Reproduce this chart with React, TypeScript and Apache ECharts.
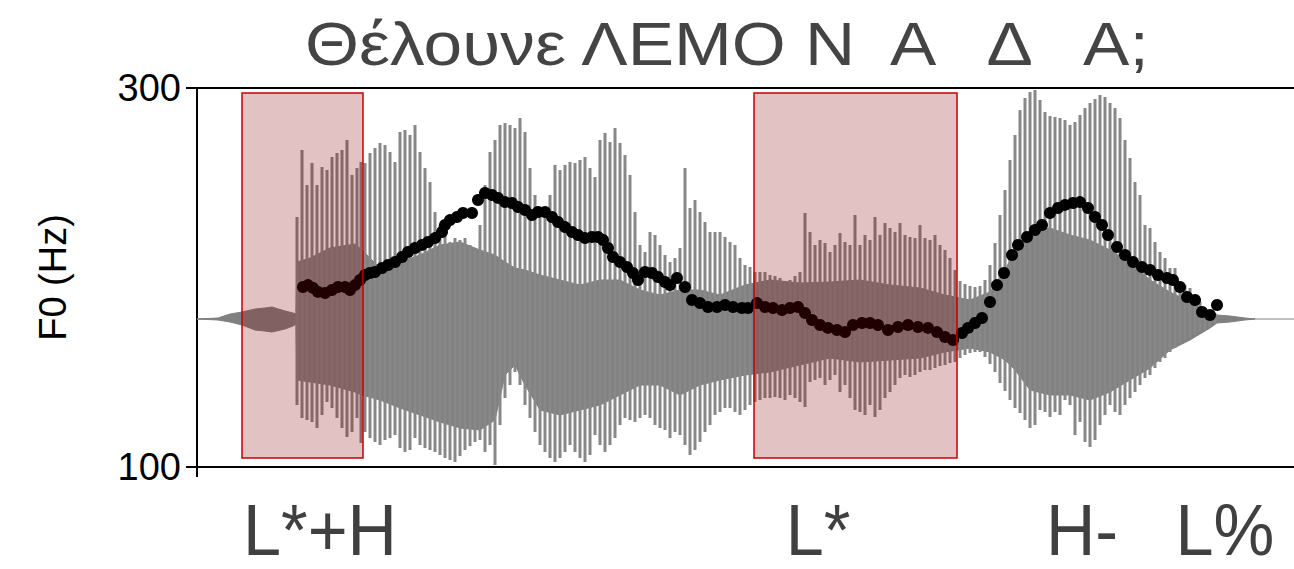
import React, { useEffect, useRef } from "react";
import * as echarts from "echarts";

const titleText = "Θέλουνε ΛΕΜΟ Ν  Α   Δ   Α;";
const yAxisName = "F0 (Hz)";
const f0Ticks = [100, 300];

// pitch track (time in ms, F0 in Hz)
const pitchTime = [106,111,116,121,128,135,141,148,153,158,163,168,173,178,185,191,198,205,211,218,225,231,238,245,248,253,260,266,275,281,288,295,301,308,315,321,328,335,341,348,355,361,368,375,381,388,395,401,406,411,416,423,430,436,441,448,455,461,468,473,480,488,495,503,511,520,528,536,545,551,560,568,576,585,593,601,608,615,623,631,640,648,656,665,673,681,691,701,711,721,731,740,748,756,765,771,778,785,793,800,807,815,821,830,838,845,853,861,868,876,883,891,898,905,911,920,928,936,945,953,961,970,976,983,990,998,1005,1013,1020];
const pitchHz = [195.0,196.0,194.5,192.4,191.8,193.4,195.0,195.0,193.4,196.0,198.7,201.3,202.4,202.9,205.0,206.6,208.2,210.8,213.5,215.6,217.2,218.7,220.8,224.0,227.7,230.3,231.9,234.0,234.0,240.9,244.6,243.5,242.0,239.8,239.3,237.2,235.6,233.0,234.6,234.6,231.9,229.3,226.6,224.0,222.4,220.8,221.4,221.4,219.8,215.6,210.8,208.2,205.5,202.4,198.7,202.9,202.4,200.3,197.6,196.0,199.7,195.0,188.1,186.5,184.4,184.4,185.5,184.4,183.9,183.9,186.5,184.4,183.9,182.8,183.9,184.4,181.3,177.6,174.9,173.4,172.3,171.2,174.9,176.0,176.0,174.9,172.3,173.9,174.9,173.9,173.4,171.2,168.6,167.0,170.7,173.4,176.0,178.6,187.1,196.0,202.4,211.9,217.2,221.4,225.1,227.7,234.0,236.7,238.3,239.3,239.8,236.7,231.9,227.7,222.4,216.1,211.9,208.2,205.5,204.0,201.3,199.7,198.7,195.0,189.7,188.1,181.8,180.2,185.5];

// waveform peaks (time in ms, amplitude in arbitrary units)
const waveTime = [100,105,110,115,120,125,130,135,140,145,150,155,160,164,168,173,178,183,188,193,198,203,208,213,218,223,228,233,238,243,248,253,258,263,268,273,278,283,288,293,298,303,308,313,318,323,328,333,338,343,348,353,358,363,368,373,378,383,388,393,398,403,408,413,418,423,428,433,438,443,448,453,458,463,468,473,478,483,488,493,498,503,508,513,518,523,528,533,538,543,548,553,558,563,568,573,578,583,588,593,598,603,608,613,618,623,628,633,638,643,648,653,658,663,668,673,678,683,688,693,698,703,708,713,718,723,728,733,738,743,748,753,758,763,768,773,778,783,788,793,798,803,808,813,818,823,828,833,838,843,848,853,858,863,868,873,878,883,888,893,898,903,908,913,918,923,928,933,938,943,948,953,958,963,968,973,978,983,988,993,998,1003,1008,1013,1018];
const waveTop = [102,169,134,156,134,152,149,162,166,169,179,144,151,157,156,166,171,176,174,167,157,187,189,184,194,167,151,137,107,94,84,77,81,79,81,74,69,94,134,167,179,194,196,194,191,201,187,151,124,104,101,124,154,149,154,157,156,159,162,151,142,179,186,177,191,176,164,144,107,74,67,87,84,74,64,57,61,71,151,111,119,107,97,87,87,87,82,77,74,61,54,52,47,47,47,44,43,41,37,39,43,47,106,87,74,79,76,67,74,86,77,74,104,74,84,79,102,84,96,91,87,96,84,82,81,94,81,79,84,74,69,61,49,38,35,33,32,33,39,54,76,104,129,159,184,209,221,227,229,219,207,203,202,201,199,194,197,204,211,216,220,224,222,216,211,201,179,161,137,124,94,91,77,67,61,51,51,37,34,31,21,17,11,7,6];
const waveBottom = [-86,-99,-101,-103,-109,-96,-83,-89,-99,-109,-118,-113,-99,-124,-113,-119,-123,-126,-121,-119,-116,-129,-133,-131,-119,-126,-129,-131,-133,-136,-139,-141,-143,-137,-131,-127,-123,-121,-133,-126,-146,-106,-79,-66,-53,-66,-86,-99,-113,-126,-133,-139,-143,-139,-133,-126,-133,-139,-143,-136,-116,-126,-133,-126,-119,-106,-99,-101,-103,-99,-96,-99,-106,-109,-111,-119,-113,-116,-126,-136,-131,-123,-113,-106,-96,-93,-89,-89,-93,-96,-91,-86,-83,-81,-79,-79,-78,-79,-81,-76,-79,-83,-88,-63,-61,-59,-66,-61,-56,-73,-66,-79,-91,-93,-96,-86,-98,-91,-79,-73,-66,-59,-56,-58,-56,-53,-51,-51,-49,-47,-46,-44,-43,-39,-36,-34,-33,-33,-38,-45,-53,-64,-72,-81,-89,-94,-101,-109,-106,-91,-93,-98,-93,-96,-81,-86,-116,-103,-123,-128,-121,-106,-96,-86,-93,-96,-86,-79,-73,-66,-59,-56,-49,-43,-39,-33,-29,-24,-21,-19,-16,-13,-11,-8,-4];

// dense waveform core envelope
const envTime = [0,21,33,45,58,68,75,88,96,99,100,113,133,158,165,183,203,223,243,263,283,298,308,318,328,343,363,383,403,423,443,463,483,503,523,548,573,603,633,663,693,723,748,773,793,808,818,833,853,873,893,913,933,953,973,993,1013,1020,1033,1048,1058];
const envTop = [0,1,5,7,10,11,12,8,6,5,57,61,71,75,69,51,57,64,74,77,69,64,57,51,49,44,39,34,39,39,29,24,29,29,24,34,39,36,37,39,34,31,24,19,27,49,69,87,91,84,79,69,57,39,27,17,7,4,3,1,0];
const envBottom = [0,-1,-3,-6,-11,-12,-13,-10,-7,-5,-61,-63,-66,-73,-76,-81,-89,-96,-103,-109,-111,-101,-56,-46,-66,-91,-96,-91,-86,-76,-66,-66,-76,-66,-61,-56,-53,-46,-39,-43,-41,-39,-33,-29,-33,-41,-51,-71,-76,-76,-81,-73,-61,-49,-31,-21,-9,-4,-3,-1,0];

// highlighted regions (ms, Hz)
const regionStart = [45, 557];
const regionEnd = [166, 760];
const regionLow = [104.8, 104.8];
const regionHigh = [297.4, 297.4];

// tone labels
const toneLabels = ["L*+H", "L*", "H-", "L%"];
const toneTime = [123, 621, 885, 1028];

const FONT = "'Liberation Sans', Arial, sans-serif";

export default function App() {
  const ref = useRef<HTMLDivElement>(null);
  useEffect(() => {
    if (!ref.current) return;
    const chart = echarts.init(ref.current, null, { renderer: "svg" });
    const option: any = {
      animation: false,
      backgroundColor: "#fff",
      grid: { left: 197, right: 0, top: 88, bottom: 102, containLabel: false },
      xAxis: [
        {
          type: "value", min: 0, max: 1097, position: "bottom",
          axisLine: { show: true, onZero: false, lineStyle: { color: "#000", width: 2 } },
          axisTick: { show: false }, axisLabel: { show: false }, splitLine: { show: false },
        },
        {
          type: "value", min: 0, max: 1097, position: "top",
          axisLine: { show: true, onZero: false, lineStyle: { color: "#000", width: 2 } },
          axisTick: { show: false }, axisLabel: { show: false }, splitLine: { show: false },
        },
      ],
      yAxis: [
        {
          type: "value", min: 100, max: 300, position: "left",
          axisLine: { show: true, onZero: false, lineStyle: { color: "#000", width: 2 } },
          axisTick: { show: true, length: 11, customValues: f0Ticks, lineStyle: { color: "#000", width: 2 } },
          axisLabel: { show: true, customValues: f0Ticks, fontSize: 38, color: "#000", margin: 16, fontFamily: FONT },
          splitLine: { show: false },
          name: yAxisName, nameLocation: "middle", nameRotate: 90, nameGap: 125,
          nameTextStyle: { fontSize: 38, color: "#000", fontFamily: FONT },
        },
        { type: "value", min: -148, max: 231, show: false },
      ],
      series: [
        {
          type: "line", xAxisIndex: 0, yAxisIndex: 1, data: [[0, 0], [1097, 0]],
          symbol: "none", lineStyle: { color: "#808080", width: 1 }, z: 1, silent: true,
        },
        {
          type: "custom", xAxisIndex: 0, yAxisIndex: 1, data: [[0, 0]], z: 2, silent: true,
          renderItem: (params: any, api: any) => {
            const up = envTime.map((t, i) => api.coord([t, envTop[i]]));
            const down = envTime.map((t, i) => api.coord([t, envBottom[i]])).reverse();
            return { type: "polygon", shape: { points: up.concat(down) }, style: { fill: "#808080", stroke: "#808080", lineWidth: 1 } };
          },
        },
        {
          type: "custom", xAxisIndex: 0, yAxisIndex: 1, z: 3, silent: true,
          data: waveTime.map((t, i) => [t, waveTop[i], waveBottom[i]]),
          encode: { x: 0, y: [1, 2] },
          renderItem: (params: any, api: any) => {
            const a = api.coord([api.value(0), api.value(1)]);
            const b = api.coord([api.value(0), api.value(2)]);
            return { type: "line", shape: { x1: a[0], y1: a[1], x2: b[0], y2: b[1] }, style: { stroke: "#888888", lineWidth: 3 } };
          },
        },
        {
          type: "scatter", xAxisIndex: 0, yAxisIndex: 0, z: 5, silent: true,
          data: pitchTime.map((t, i) => [t, pitchHz[i]]),
          symbol: "circle", symbolSize: 12, itemStyle: { color: "#000", opacity: 1 },
        },
        {
          type: "custom", xAxisIndex: 0, yAxisIndex: 0, z: 10, silent: true,
          data: regionStart.map((s, i) => [s, regionEnd[i], regionLow[i], regionHigh[i]]),
          encode: { x: [0, 1], y: [2, 3] },
          renderItem: (params: any, api: any) => {
            const p0 = api.coord([api.value(0), api.value(3)]);
            const p1 = api.coord([api.value(1), api.value(2)]);
            return {
              type: "rect",
              shape: { x: p0[0], y: p0[1], width: p1[0] - p0[0], height: p1[1] - p0[1] },
              style: { fill: "rgba(132,0,0,0.24)", stroke: "#c80000", lineWidth: 1.5 },
            };
          },
        },
      ],
    };
    chart.setOption(option);

    const graphics: any[] = [
      {
        type: "text", x: 305, y: 12, scaleX: 1.12, silent: true,
        style: { text: titleText, fontSize: 62, fontFamily: FONT, fill: "#444", align: "left", verticalAlign: "top" },
      },
      {
        type: "line", silent: true,
        shape: { x1: 197, y1: 466, x2: 197, y2: 477 },
        style: { stroke: "#000", lineWidth: 2 },
      },
    ];
    toneLabels.forEach((lab, i) => {
      const px = chart.convertToPixel({ xAxisIndex: 0 }, toneTime[i]) as number;
      graphics.push({
        type: "text", x: px, y: 566, scaleX: 0.95, silent: true,
        style: { text: lab, fontSize: 72, fontFamily: FONT, fill: "#404040", align: "center", verticalAlign: "bottom" },
      });
    });
    chart.setOption({ graphic: graphics });

    return () => chart.dispose();
  }, []);
  return <div ref={ref} style={{ position: "fixed", left: 0, top: 0, width: 1294, height: 569 }} />;
}
